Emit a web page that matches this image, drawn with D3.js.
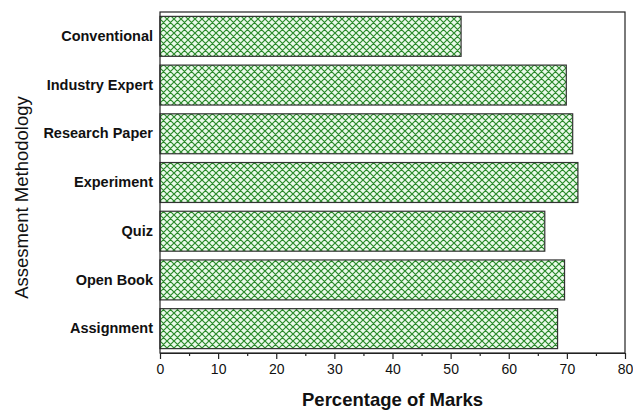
<!DOCTYPE html>
<html>
<head>
<meta charset="utf-8">
<script src="https://cdn.jsdelivr.net/npm/d3@7"></script>
<style>
  body { margin: 0; background: #fff; }
  svg { font-family: "Liberation Sans", Arial, sans-serif; }
</style>
</head>
<body>
<svg id="chart" width="633" height="411"></svg>
<script>
const methods = ['Conventional', 'Industry Expert', 'Research Paper', 'Experiment', 'Quiz', 'Open Book', 'Assignment'];
const marks = [51.8, 69.9, 71.0, 71.9, 66.2, 69.6, 68.4];
const xTicks = [0, 10, 20, 30, 40, 50, 60, 70, 80];
const xMinorTicks = [5, 15, 25, 35, 45, 55, 65, 75];

const data = methods.map((m, i) => ({ method: m, value: marks[i] }));

const svg = d3.select('#chart');
const margin = { top: 12, right: 8, bottom: 58, left: 160 };
const width = 633 - margin.left - margin.right;
const height = 411 - margin.top - margin.bottom;

// crosshatch fill
const defs = svg.append('defs');
const pat = defs.append('pattern')
  .attr('id', 'hatch')
  .attr('patternUnits', 'userSpaceOnUse')
  .attr('width', 7)
  .attr('height', 7);
pat.append('rect').attr('width', 7).attr('height', 7).attr('fill', '#eafaea');
pat.append('path')
  .attr('d', 'M-1,1 L1,-1 M0,7 L7,0 M6,8 L8,6 M-1,6 L1,8 M0,0 L7,7 M6,-1 L8,1')
  .attr('stroke', '#2a8a2a')
  .attr('stroke-width', 1.2);

const chart = svg.append('g')
  .attr('transform', `translate(${margin.left}, ${margin.top})`);

const x = d3.scaleLinear().domain([0, 80]).range([0, width]);
const y = d3.scaleBand().domain(methods).range([0, height]).paddingInner(0.18).paddingOuter(0.09);

chart.selectAll('.bar')
  .data(data)
  .enter()
  .append('rect')
  .attr('class', 'bar')
  .attr('x', x(0))
  .attr('y', d => y(d.method))
  .attr('width', d => x(d.value) - x(0))
  .attr('height', y.bandwidth())
  .attr('fill', 'url(#hatch)')
  .attr('stroke', '#333')
  .attr('stroke-width', 1.2);

// frame
chart.append('rect')
  .attr('width', width)
  .attr('height', height)
  .attr('fill', 'none')
  .attr('stroke', '#222')
  .attr('stroke-width', 1.2);

// x axis
const xAxis = chart.append('g')
  .attr('transform', `translate(0, ${height})`)
  .call(d3.axisBottom(x).tickValues(xTicks).tickSize(6).tickSizeOuter(0).tickFormat(d3.format('d')));
xAxis.select('.domain').attr('stroke', '#222').attr('stroke-width', 1.2);
xAxis.selectAll('.tick line').attr('stroke', '#222').attr('stroke-width', 1.2);
xAxis.selectAll('text').attr('font-size', 14).attr('fill', '#111').attr('dy', '0.85em');

const xMinor = chart.append('g')
  .attr('transform', `translate(0, ${height})`)
  .call(d3.axisBottom(x).tickValues(xMinorTicks).tickSize(3).tickFormat(''));
xMinor.select('.domain').remove();
xMinor.selectAll('.tick line').attr('stroke', '#222').attr('stroke-width', 1.2);

// y labels
const yAxis = chart.append('g')
  .call(d3.axisLeft(y).tickSize(0).tickPadding(7));
yAxis.select('.domain').remove();
yAxis.selectAll('text')
  .attr('font-size', 14.5)
  .attr('font-weight', 'bold')
  .attr('fill', '#111');

// titles
svg.append('text')
  .attr('x', margin.left + width / 2)
  .attr('y', 406)
  .attr('text-anchor', 'middle')
  .attr('font-size', 18.5)
  .attr('font-weight', 'bold')
  .attr('fill', '#111')
  .text('Percentage of Marks');

svg.append('text')
  .attr('transform', `translate(28, ${margin.top + height / 2 + 15}) rotate(-90)`)
  .attr('text-anchor', 'middle')
  .attr('font-size', 18.5)
  .attr('fill', '#111')
  .text('Assesment Methodology');
</script>
</body>
</html>
